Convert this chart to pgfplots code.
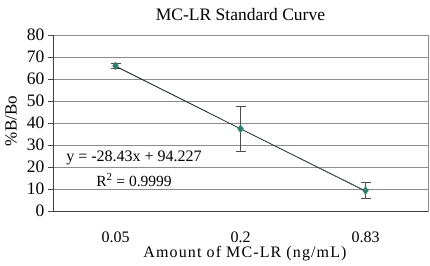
\documentclass[border=0pt]{standalone}
\usepackage{pgfplots}
\pgfplotsset{compat=1.18}
\usepackage{fontspec}
\setmainfont{Liberation Serif}
\definecolor{mk}{HTML}{2E7F70}
\begin{document}
\begin{tikzpicture}
\begin{axis}[
  scale only axis, width=375pt, height=176pt,
  xmin=-0.5, xmax=2.5, ymin=0, ymax=80,
  ytick={0,10,...,80},
  xtick={0,1,2}, xticklabels={0.05,0.2,0.83},
  major x tick style={draw=none},
  extra x ticks={-0.5,0.5,1.5,2.5}, extra x tick labels={},
  extra x tick style={major tick length=5pt, tick style={draw=black!70}, grid=none},
  tick align=outside, major tick length=5pt,
  ytick style={draw=black!70},
  ymajorgrids, grid style={draw=black!45, line width=0.6pt},
  axis line style={draw=black!45, line width=0.6pt},
  xtick pos=bottom, ytick pos=left,
  /pgf/number format/assume math mode=true,
  xticklabel style={font=\fontsize{16}{18}\selectfont, anchor=center, yshift=-21pt},
  yticklabel style={font=\fontsize{17.5}{19}\selectfont, xshift=0pt},
  clip=false,
]
\coordinate (O) at (rel axis cs:0,0);
\coordinate (T) at (rel axis cs:1,1);
\draw[black!75, line width=0.7pt] (rel axis cs:0,0) -- (rel axis cs:0,1);
\draw[black!75, line width=0.7pt] (rel axis cs:0,0) -- (rel axis cs:1,0);
\addplot[color=mk!60!gray, line width=0.5pt, mark=diamond*, mark size=3.8pt,
  mark options={draw=mk, fill=mk},
  error bars/.cd, y dir=both, y explicit,
  error bar style={draw=black!70, line width=0.6pt},
  error mark options={draw=black!70, line width=0.6pt, mark size=5pt, rotate=90}]
  coordinates {(0,66.0) +- (0,1.2) (1,37.4) +- (0,10.2) (2,9.3) +- (0,3.6)};
\addplot[black, line width=0.5pt] coordinates {(0,65.797) (2,8.937)};
\end{axis}
\node[font=\fontsize{16}{18}\selectfont] at ([xshift=81pt,yshift=53pt]O) {y = -28.43x + 94.227};
\node[font=\fontsize{15.5}{18}\selectfont] at ([xshift=81pt,yshift=31pt]O) {R\textsuperscript{2} = 0.9999};
\node[font=\fontsize{17.5}{19}\selectfont] at ([xshift=-187.5pt,yshift=20pt]T) {MC-LR Standard Curve};
\node[font=\fontsize{16}{18}\selectfont\addfontfeature{LetterSpace=7}] at ([xshift=192pt,yshift=-43pt]O) {Amount of MC-LR (ng/mL)};
\node[font=\fontsize{17}{19}\selectfont, rotate=90] at ([xshift=-42pt,yshift=90pt]O) {\%B/Bo};
\pgfresetboundingbox
\path[use as bounding box] ([xshift=-53pt,yshift=-55pt]O) rectangle ([xshift=2pt,yshift=35pt]T);
\end{tikzpicture}
\end{document}
